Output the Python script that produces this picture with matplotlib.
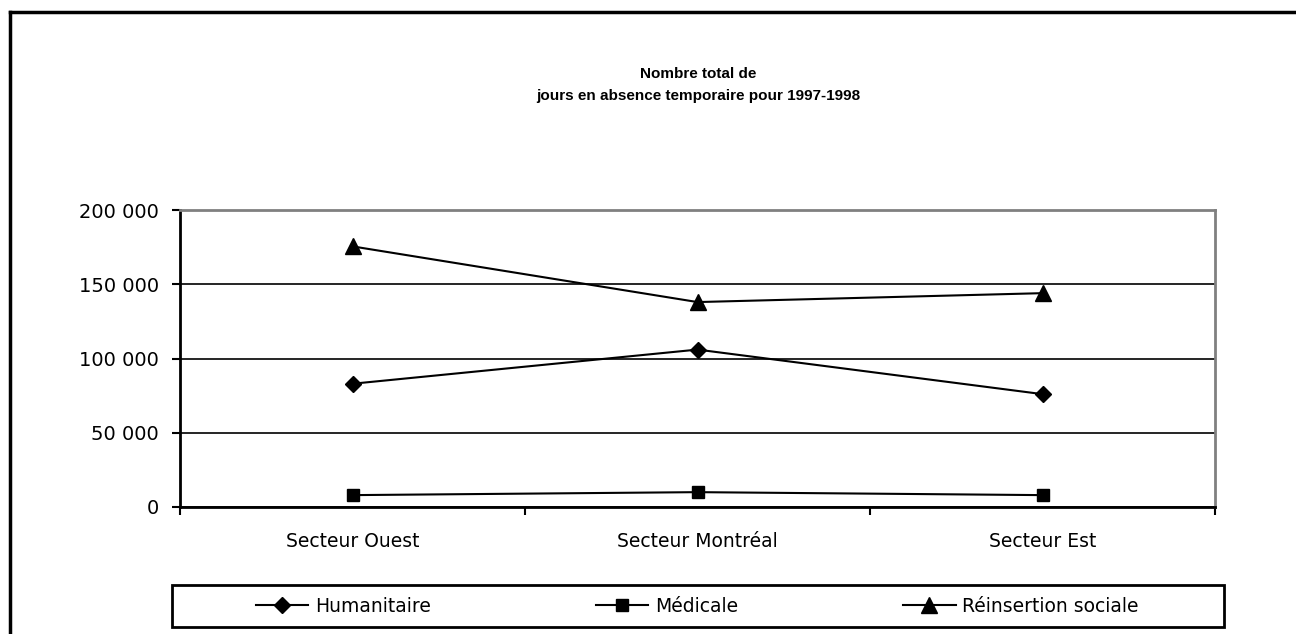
import matplotlib
matplotlib.use("Agg")
import matplotlib.pyplot as plt
from matplotlib.lines import Line2D
from matplotlib.patches import Rectangle
from matplotlib.ticker import FuncFormatter

# data
secteurs = ["Secteur Ouest", "Secteur Montréal", "Secteur Est"]
humanitaire = [83000, 106000, 76000]
medicale = [8000, 10000, 8000]
reinsertion = [175500, 138000, 144000]
series_names = ["Humanitaire", "Médicale", "Réinsertion sociale"]

fig = plt.figure(figsize=(12.96, 6.34), dpi=100)
ax = fig.add_axes([180 / 1296, 1 - 507 / 634, 1035 / 1296, 297 / 634])

x = list(range(len(secteurs)))
ax.plot(x, humanitaire, color="black", lw=1.5, marker="D", ms=8,
        label=series_names[0])
ax.plot(x, medicale, color="black", lw=1.5, marker="s", ms=9,
        mfc="black", mec="black", label=series_names[1])
ax.plot(x, reinsertion, color="black", lw=1.5, marker="^", ms=12,
        label=series_names[2])

ax.set_xlim(-0.5, 2.5)
ax.set_ylim(0, 200000)
ax.set_yticks([0, 50000, 100000, 150000, 200000])
ax.yaxis.set_major_formatter(FuncFormatter(lambda v, p: f"{int(v):,}".replace(",", " ")))
ax.set_xticks(x)
ax.set_xticklabels(secteurs)
ax.set_xticks([-0.5, 0.5, 1.5, 2.5], minor=True)
ax.tick_params(axis="x", which="major", length=0, pad=18, labelsize=13.5)
ax.tick_params(axis="x", which="minor", length=6, width=1.5, direction="out")
ax.tick_params(axis="y", length=6, width=1.5, direction="out", pad=9, labelsize=14)

ax.grid(axis="y", color="black", lw=1.2)
ax.set_axisbelow(True)
for side in ["left", "bottom"]:
    ax.spines[side].set_color("black")
    ax.spines[side].set_linewidth(2)
for side in ["top", "right"]:
    ax.spines[side].set_color("#808080")
    ax.spines[side].set_linewidth(2)

fig.text(0.5386, 1 - 85 / 634, "Nombre total de\njours en absence temporaire pour 1997-1998",
         ha="center", va="center", fontsize=11, fontweight="bold", linespacing=1.75,
         family="Liberation Sans")

# legend frame and entries
fig.patches.append(Rectangle((172 / 1296, 1 - 627 / 634), 1052 / 1296, 42 / 634,
                             transform=fig.transFigure, fill=False, ec="black", lw=2))
handles, labels = ax.get_legend_handles_labels()
fig.legend(handles, labels, loc="center", bbox_to_anchor=(0.538, 1 - 606 / 634),
           ncol=3, frameon=False, fontsize=13.5, handlelength=2.8,
           handletextpad=0.35, columnspacing=8.8)

# outer chart border (cropped at right and bottom)
fig.add_artist(Line2D([10 / 1296, 10 / 1296], [0, 1 - 12 / 634], transform=fig.transFigure,
                      color="black", lw=2.5))
fig.add_artist(Line2D([10 / 1296, 1], [1 - 12 / 634, 1 - 12 / 634], transform=fig.transFigure,
                      color="black", lw=2.5))

fig.savefig("out.png", dpi=100)
